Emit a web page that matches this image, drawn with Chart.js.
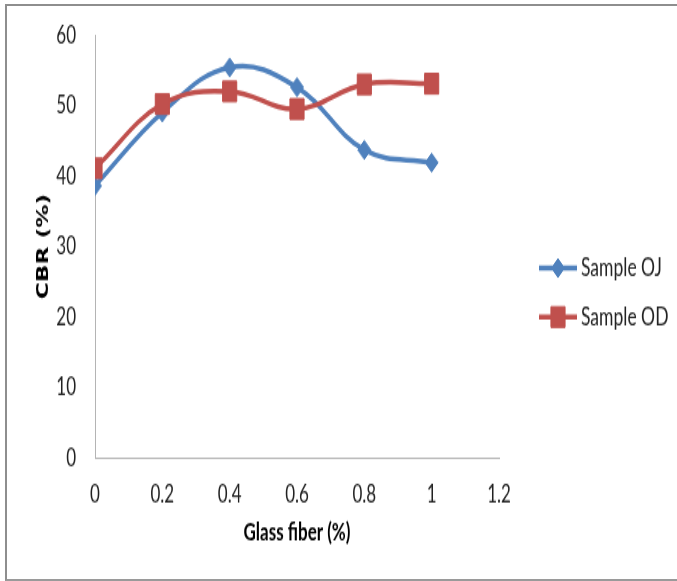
<!DOCTYPE html>
<html>
<head>
<meta charset="utf-8">
<script src="https://cdn.jsdelivr.net/npm/chart.js@4"></script>
<style>
  html, body { margin: 0; padding: 0; background: #fff; }
  body { width: 677px; height: 581px; position: relative; overflow: hidden; }
  #wrap { position: absolute; left: 0; top: 0; width: 677px; height: 400px;
          transform: scaleY(1.4525); transform-origin: 0 0; }
  #frame { position: absolute; left: 5px; top: 4px; width: 680px; height: 573px;
           border-left: 2px solid #8e8e8e; border-top: 2px solid #8e8e8e; border-bottom: 2px solid #9a9a9a; }
</style>
</head>
<body>
<div id="wrap"><canvas id="chart" width="677" height="400"></canvas></div>
<div id="frame"></div>
<script>
// ===== Datos =====
const glassFiber = [0, 0.2, 0.4, 0.6, 0.8, 1];
const sampleOJ = [38.6, 49.0, 55.4, 52.6, 43.7, 41.9];
const sampleOD = [41.1, 50.2, 52.0, 49.5, 53.0, 53.1];
const seriesNames = ['Sample OJ', 'Sample OD'];

const toPoints = vals => glassFiber.map((x, i) => ({ x: x, y: vals[i] }));

Chart.defaults.font.family = 'Lato';

// leyenda propia: linea + marcador, como en Excel
const sideLegend = {
  id: 'sideLegend',
  afterDraw(chart) {
    const ctx = chart.ctx;
    const yMid = chart.height / 2 + 1.4;
    const gap = 33.7;
    chart.data.datasets.forEach((ds, i) => {
      const y = yMid + (i - 0.5) * gap;
      ctx.save();
      ctx.strokeStyle = ds.borderColor;
      ctx.lineWidth = ds.borderWidth;
      ctx.beginPath();
      ctx.moveTo(539, y);
      ctx.lineTo(577, y);
      ctx.stroke();
      ctx.fillStyle = ds.pointBackgroundColor;
      ctx.strokeStyle = ds.pointBorderColor;
      ctx.lineWidth = 1;
      Chart.helpers.drawPoint(ctx, { pointStyle: ds.pointStyle, radius: ds.pointRadius, borderWidth: 1 }, 558, y);
      ctx.fillStyle = '#222';
      ctx.font = '17.5px Lato';
      ctx.textBaseline = 'middle';
      ctx.textAlign = 'left';
      ctx.fillText(ds.label, 581, y);
      ctx.restore();
    });
  }
};

new Chart(document.getElementById('chart').getContext('2d'), {
  type: 'line',
  data: {
    datasets: [
      { label: seriesNames[0], data: toPoints(sampleOJ), borderColor: '#4F81BD', borderWidth: 3.5,
        pointStyle: 'rectRot', pointRadius: 6.5, pointBackgroundColor: '#4F81BD', pointBorderColor: '#4F81BD',
        pointBorderWidth: 1, tension: 0.4, order: 1 },
      { label: seriesNames[1], data: toPoints(sampleOD), borderColor: '#C0504D', borderWidth: 3.5,
        pointStyle: 'rect', pointRadius: 10, pointBackgroundColor: '#C0504D', pointBorderColor: '#C0504D',
        pointBorderWidth: 1, tension: 0.4, order: 0 }
    ]
  },
  options: {
    responsive: false,
    animation: false,
    layout: { padding: { left: 0, top: 24.1, right: 178, bottom: 0 } },
    plugins: { legend: { display: false }, tooltip: { enabled: false } },
    scales: {
      x: {
        type: 'linear', min: 0, max: 1.2,
        grid: { display: false, drawTicks: false },
        border: { color: '#b4b4b4', width: 1 },
        ticks: { stepSize: 0.2, padding: 15, color: '#222', font: { size: 17 },
                 callback: v => +v.toFixed(1) },
        title: { display: true, text: 'Glass fiber (%)', color: '#000',
                 font: { size: 17, weight: 'bold' }, padding: { top: 0, bottom: 22.8 } },
        afterFit: s => { s.height = 84.7; }
      },
      y: {
        min: 0, max: 60,
        grid: { display: false, drawTicks: false },
        border: { color: '#b4b4b4', width: 1 },
        ticks: { stepSize: 10, padding: 19, color: '#222', font: { size: 17 } },
        title: { display: true, text: 'CBR (%)', color: '#000',
                 font: { size: 16, weight: 'bold', family: 'DejaVu Sans' }, padding: { top: 34, bottom: 0 } },
        afterFit: s => { s.width = 95; s.paddingTop = 10; s.paddingBottom = 10; }
      }
    }
  },
  plugins: [sideLegend]
});
</script>
</body>
</html>
